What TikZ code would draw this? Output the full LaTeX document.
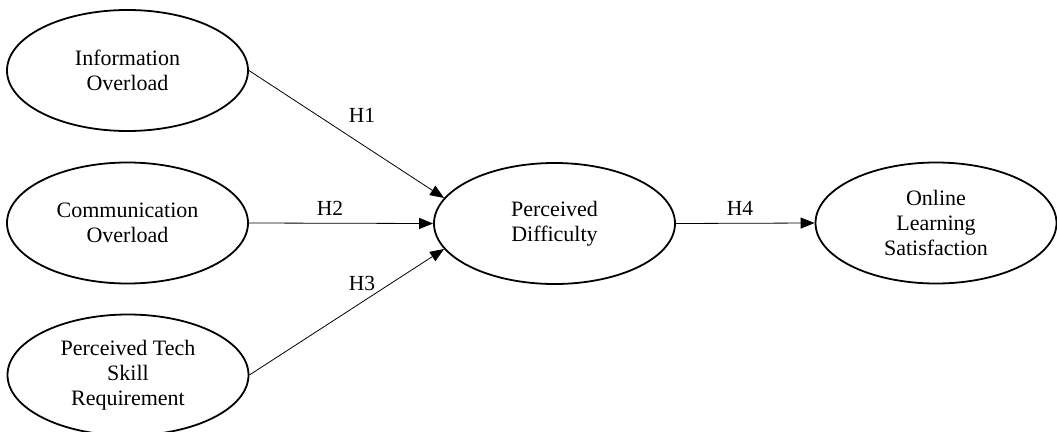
\documentclass[tikz,border=0pt]{standalone}
\usepackage{fontspec}
\setmainfont{Liberation Serif}
\usetikzlibrary{shapes.geometric,arrows.meta}
\tikzset{
  construct/.style={draw=black, ellipse, line width=1.8pt, minimum width=241pt, minimum height=121pt, inner sep=0pt, align=center, font=\fontsize{22}{25}\selectfont},
  path/.style={draw=black, line width=0.8pt, -{Triangle[length=14pt,width=11pt]}},
  hlabel/.style={font=\fontsize{21.5}{25}\selectfont, inner sep=0pt}
}
\begin{document}
\begin{tikzpicture}[x=1pt,y=-1pt]
\useasboundingbox (0,0) rectangle (1057,431);
\node[construct] (info) at (127.5,70.5) {Information\\Overload};
\node[construct] (comm) at (127.5,223) {Communication\\Overload};
\node[construct] (tech) at (128,375) {Perceived Tech\\Skill\\Requirement};
\node[construct] (pd) at (554.5,223.5) {Perceived\\Difficulty};
\node[construct] (ols) at (936,223) {Online\\Learning\\Satisfaction};
\draw[path] (info.east) -- (pd.167);
\draw[path] (comm.east) -- (pd.west);
\draw[path] (tech.east) -- (pd.193);
\draw[path] (pd.east) -- (ols.west);
\node[hlabel] (h1) at (362,115) {H1};
\node[hlabel] (h2) at (330,208) {H2};
\node[hlabel] (h3) at (362,283) {H3};
\node[hlabel] (h4) at (740,208) {H4};
\end{tikzpicture}
\end{document}
